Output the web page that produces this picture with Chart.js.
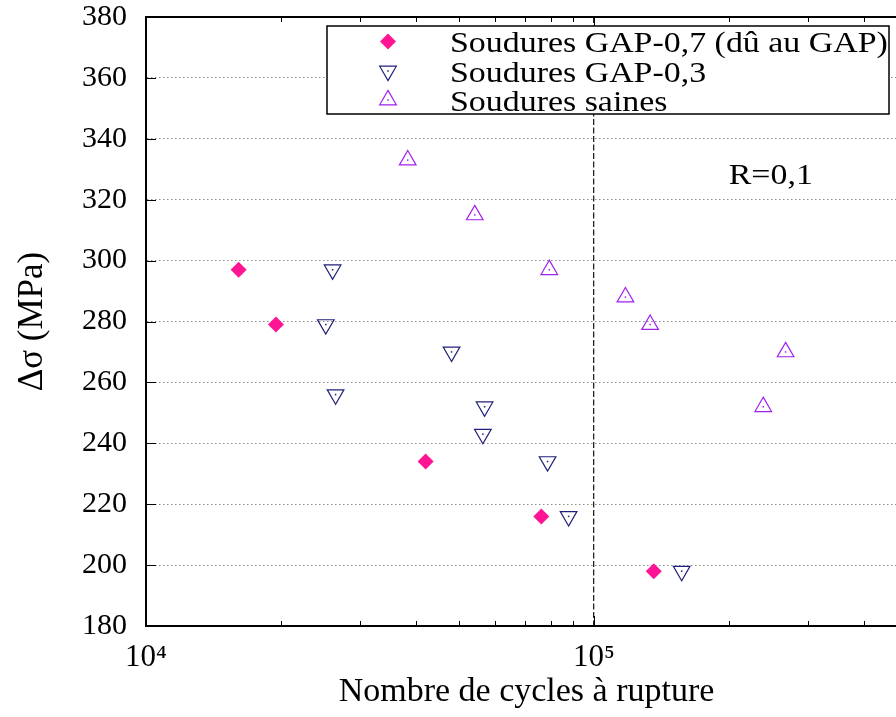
<!DOCTYPE html>
<html>
<head>
<meta charset="utf-8">
<script src="https://cdn.jsdelivr.net/npm/chart.js@4/dist/chart.umd.min.js"></script>
<style>
html, body { margin: 0; padding: 0; background: #fff; overflow: hidden; }
#wrap { width: 896px; height: 717px; overflow: hidden; position: relative; }
canvas { display: block; }
</style>
</head>
<body>
<div id="wrap"><canvas id="c" width="920" height="717" style="width:920px;height:717px"></canvas></div>
<script>
// ---- data ----
const gap07Cycles = [16100, 19500, 42100, 76300, 136000];
const gap07Stress = [297, 279, 234, 216, 198];

const gap03Cycles = [26100, 25200, 26500, 48100, 57000, 56500, 78800, 87800, 157000];
const gap03Stress = [297, 279, 256, 270, 252, 243, 234, 216, 198];

const sainesCycles = [38400, 54200, 79500, 117600, 133500, 238800, 267900];
const sainesStress = [333, 315, 297, 288, 279, 252, 270];

const seriesLabels = ['Soudures GAP-0,7 (dû au GAP)', 'Soudures GAP-0,3', 'Soudures saines'];
const xTickLabels = { 10000: '10\u2074', 100000: '10\u2075' };
const yTicks = [180, 200, 220, 240, 260, 280, 300, 320, 340, 360, 380];
const xTitle = 'Nombre de cycles à rupture';
const yTitle = 'Δσ (MPa)';
const annotationText = 'R=0,1';
const annotationPos = { x: 200000, y: 325 };

const FONT = "'Liberation Serif', 'DejaVu Serif', serif";
const COL_PINK = '#ff1493';
const COL_BLUE = '#202078';
const COL_PURPLE = '#a020f0';
const TEXT_STRETCH = 1.13;

function pts(xs, ys) { return xs.map((x, i) => ({ x: x, y: ys[i] })); }

function drawMarker(ctx, kind, color, x, y) {
  ctx.save();
  if (kind === 'diamond') {
    const r = 8;
    ctx.fillStyle = color;
    ctx.beginPath();
    ctx.moveTo(x - r, y); ctx.lineTo(x, y - r); ctx.lineTo(x + r, y); ctx.lineTo(x, y + r);
    ctx.closePath(); ctx.fill();
  } else {
    const r = 9.6;
    const s = kind === 'down' ? -1 : 1;
    ctx.strokeStyle = color; ctx.lineWidth = 1.2;
    ctx.beginPath();
    ctx.moveTo(x, y - s * r);
    ctx.lineTo(x + r * 0.866, y + s * r * 0.5);
    ctx.lineTo(x - r * 0.866, y + s * r * 0.5);
    ctx.closePath(); ctx.stroke();
    ctx.fillStyle = color;
    ctx.fillRect(x - 0.75, y - 0.75, 1.5, 1.5);
  }
  ctx.restore();
}

function stretchedText(ctx, text, x, y) {
  ctx.save();
  ctx.translate(x, y);
  ctx.scale(TEXT_STRETCH, 1);
  ctx.fillText(text, 0, 0);
  ctx.restore();
}

const framePlugin = {
  id: 'frame',
  beforeDatasetsDraw(chart) {
    const { ctx, chartArea: a, scales } = chart;
    const xs = scales.x, ys = scales.y;
    ctx.save();
    ctx.strokeStyle = '#000';
    ctx.lineWidth = 1;
    const minor = [];
    for (let d = 10000; d < 1000000; d *= 10) {
      for (let m = 1; m < 10; m++) {
        const v = d * m;
        if (v >= xs.min && v <= xs.max) minor.push(v);
      }
    }
    minor.forEach(v => {
      const px = Math.round(xs.getPixelForValue(v)) + 0.5;
      const major = (v === 10000 || v === 100000);
      const len = major ? 10 : 5;
      ctx.beginPath();
      ctx.moveTo(px, a.bottom); ctx.lineTo(px, a.bottom - len);
      ctx.moveTo(px, a.top); ctx.lineTo(px, a.top + len);
      ctx.stroke();
    });
    yTicks.forEach(v => {
      const py = Math.round(ys.getPixelForValue(v)) + 0.5;
      ctx.beginPath();
      ctx.moveTo(a.left, py); ctx.lineTo(a.left + 10, py);
      ctx.moveTo(a.right, py); ctx.lineTo(a.right - 10, py);
      ctx.stroke();
    });
    ctx.restore();
  },
  afterDatasetsDraw(chart) {
    const { ctx } = chart;
    chart.data.datasets.forEach((ds, i) => {
      if (ds.pointStyle !== 'triangle') return;
      const meta = chart.getDatasetMeta(i);
      ctx.save();
      ctx.fillStyle = ds.borderColor;
      meta.data.forEach(el => ctx.fillRect(el.x - 0.75, el.y - 0.75, 1.5, 1.5));
      ctx.restore();
    });
  },
  afterDraw(chart) {
    const { ctx, chartArea: a, scales } = chart;
    ctx.save();
    ctx.strokeStyle = '#000';
    ctx.lineWidth = 2;
    ctx.beginPath();
    ctx.moveTo(a.left - 1, a.top); ctx.lineTo(a.right, a.top); ctx.lineTo(a.right, a.bottom);
    ctx.stroke();

    ctx.fillStyle = '#000';
    ctx.font = '30px ' + FONT;
    ctx.textBaseline = 'alphabetic';
    ctx.textAlign = 'left';
    stretchedText(ctx, annotationText, scales.x.getPixelForValue(annotationPos.x), scales.y.getPixelForValue(annotationPos.y));

    const bx = 327, by = 26, bw = 562, bh = 88;
    ctx.fillStyle = '#fff';
    ctx.fillRect(bx, by, bw, bh);
    ctx.strokeStyle = '#000';
    ctx.lineWidth = 1.5;
    ctx.strokeRect(bx, by, bw, bh);
    const kinds = ['diamond', 'down', 'up'];
    const cols = [COL_PINK, COL_BLUE, COL_PURPLE];
    const rowsY = [41.5, 71, 100];
    ctx.font = '30px ' + FONT;
    seriesLabels.forEach((lab, i) => {
      drawMarker(ctx, kinds[i], cols[i], 388, rowsY[i]);
      ctx.fillStyle = '#000';
      stretchedText(ctx, lab, 450, rowsY[i] + 10.5);
    });
    ctx.restore();
  }
};

const chart = new Chart(document.getElementById('c'), {
  type: 'scatter',
  data: {
    datasets: [
      {
        label: seriesLabels[0],
        data: pts(gap07Cycles, gap07Stress),
        pointStyle: 'rectRot',
        pointRadius: 8,
        backgroundColor: COL_PINK,
        borderColor: COL_PINK,
        borderWidth: 0
      },
      {
        label: seriesLabels[1],
        data: pts(gap03Cycles, gap03Stress),
        pointStyle: 'triangle',
        rotation: 180,
        pointRadius: 9.6,
        backgroundColor: 'rgba(0,0,0,0)',
        borderColor: COL_BLUE,
        borderWidth: 1.2
      },
      {
        label: seriesLabels[2],
        data: pts(sainesCycles, sainesStress),
        pointStyle: 'triangle',
        pointRadius: 9.6,
        backgroundColor: 'rgba(0,0,0,0)',
        borderColor: COL_PURPLE,
        borderWidth: 1.2
      }
    ]
  },
  options: {
    responsive: false,
    animation: false,
    events: [],
    devicePixelRatio: 1,
    layout: { padding: { top: 17, right: 13, left: 0, bottom: 0 } },
    plugins: { legend: { display: false }, tooltip: { enabled: false } },
    scales: {
      x: {
        type: 'logarithmic',
        position: 'bottom',
        min: 10000,
        max: 500000,
        afterBuildTicks: s => { s.ticks = [{ value: 10000 }, { value: 100000 }]; },
        afterFit: s => { s.height = 91; s.paddingLeft = 0; s.paddingRight = 0; },
        ticks: {
          autoSkip: false,
          maxRotation: 0,
          padding: 13,
          color: '#000',
          font: { family: FONT, size: 31 },
          callback: v => xTickLabels[v] || ''
        },
        grid: {
          drawTicks: false,
          color: c => (c.tick && c.tick.value === 100000) ? '#222' : 'rgba(0,0,0,0)',
          lineWidth: 1.3
        },
        border: { display: true, color: '#000', width: 2, dash: c => (c.tick ? [6, 2.5] : []) },
        title: {
          display: true,
          text: xTitle,
          color: '#000',
          font: { family: FONT, size: 34 },
          padding: { top: 0, bottom: 5 }
        }
      },
      y: {
        type: 'linear',
        min: 180,
        max: 380,
        afterBuildTicks: s => { s.ticks = yTicks.map(v => ({ value: v })); },
        afterFit: s => { s.width = 146; s.paddingTop = 0; s.paddingBottom = 0; },
        ticks: {
          padding: 19,
          color: '#000',
          font: { family: FONT, size: 30 }
        },
        grid: {
          drawTicks: false,
          color: c => (c.tick && c.tick.value > 180 && c.tick.value < 380) ? '#8a8a8a' : 'rgba(0,0,0,0)',
          lineWidth: 1
        },
        border: { display: true, color: '#000', width: 2, dash: c => (c.tick ? [1.5, 2.5] : []) },
        title: {
          display: true,
          text: yTitle,
          color: '#000',
          font: { family: FONT, size: 35 },
          padding: { top: 12, bottom: 0 }
        }
      }
    }
  },
  plugins: [framePlugin]
});
</script>
</body>
</html>
